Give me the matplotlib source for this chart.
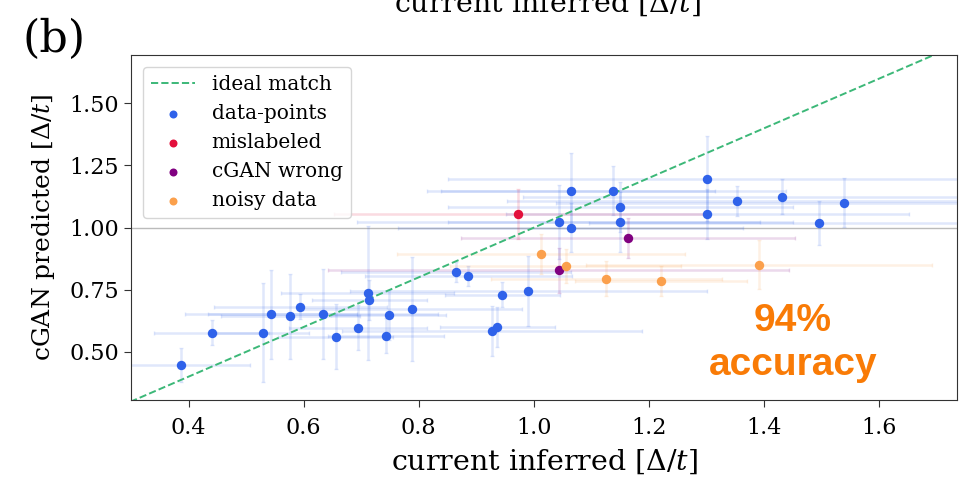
import numpy as np
import matplotlib.pyplot as plt

plt.rcParams['font.family'] = ['DejaVu Serif']
plt.rcParams['mathtext.fontset'] = 'dejavuserif'

# blue points: current inferred, cGAN predicted, x error, y error
data_x = [0.387, 0.440, 0.530, 0.543, 0.577, 0.594, 0.634, 0.656, 0.695, 0.711,
          0.714, 0.743, 0.748, 0.789, 0.864, 0.886, 0.927, 0.936, 0.945, 0.990,
          1.043, 1.064, 1.064, 1.138, 1.150, 1.150, 1.301, 1.301, 1.353, 1.431,
          1.496, 1.539]
data_y = [0.447, 0.577, 0.577, 0.651, 0.643, 0.681, 0.653, 0.561, 0.597, 0.737,
          0.709, 0.565, 0.647, 0.671, 0.820, 0.804, 0.585, 0.601, 0.730, 0.745,
          1.023, 1.149, 1.000, 1.149, 1.083, 1.022, 1.197, 1.054, 1.107, 1.124,
          1.018, 1.101]
data_xerr = [0.12, 0.10, 0.08, 0.15, 0.12, 0.15, 0.20, 0.10, 0.12, 0.15,
             0.10, 0.10, 0.10, 0.19, 0.20, 0.18, 0.26, 0.10, 0.10, 0.31,
             0.35, 0.25, 0.30, 0.30, 0.30, 0.30, 0.45, 0.35, 0.40, 0.45,
             0.40, 0.50]
data_yerr = [0.07, 0.05, 0.20, 0.18, 0.17, 0.05, 0.18, 0.13, 0.09, 0.27,
             0.08, 0.07, 0.10, 0.21, 0.04, 0.04, 0.10, 0.08, 0.05, 0.14,
             0.15, 0.15, 0.10, 0.10, 0.10, 0.12, 0.17, 0.10, 0.06, 0.07,
             0.09, 0.10]

mis_x, mis_y, mis_xerr, mis_yerr = [0.973], [1.055], [0.32], [0.10]

wrong_x = [1.164, 1.043]
wrong_y = [0.959, 0.828]
wrong_xerr = [0.29, 0.40]
wrong_yerr = [0.08, 0.09]

noisy_x = [1.012, 1.055, 1.126, 1.221, 1.391]
noisy_y = [0.894, 0.845, 0.795, 0.784, 0.851]
noisy_xerr = [0.25, 0.20, 0.20, 0.15, 0.30]
noisy_yerr = [0.08, 0.07, 0.07, 0.06, 0.10]

groups = [
    ("data-points", data_x, data_y, data_xerr, data_yerr, "#2f62ea"),
    ("mislabeled", mis_x, mis_y, mis_xerr, mis_yerr, "#e3103c"),
    ("cGAN wrong", wrong_x, wrong_y, wrong_xerr, wrong_yerr, "#800080"),
    ("noisy data", noisy_x, noisy_y, noisy_xerr, noisy_yerr, "#fba04c"),
]

fig = plt.figure(figsize=(9.59, 4.79), dpi=100)
ax = fig.add_axes([131 / 959, 1 - 400 / 479, 826 / 959, 345.3 / 479])

ax.axhline(1.0, color="#bbbbbb", lw=1, zorder=0)
ax.plot([0.2, 1.8], [0.2, 1.8], "--", color="#3cb878", lw=1.4, label="ideal match")

for name, x, y, xe, ye, c in groups:
    ax.errorbar(x, y, xerr=xe, yerr=ye, fmt="none", ecolor=c, alpha=0.15,
                elinewidth=1.8, capsize=1.5, zorder=1)
for name, x, y, xe, ye, c in groups:
    ax.scatter(x, y, s=46, color=c, label=name, zorder=3, linewidths=0)

ax.set_xlim(0.3, 1.735)
ax.set_ylim(0.306, 1.696)
ax.set_xticks([0.4, 0.6, 0.8, 1.0, 1.2, 1.4, 1.6])
ax.set_yticks([0.5, 0.75, 1.0, 1.25, 1.5])
ax.tick_params(labelsize=16, length=5, color="#333333")
ax.tick_params(axis="x", pad=7)
for s in ax.spines.values():
    s.set_color("#333333")
ax.set_xlabel(r"current inferred [$\Delta/t$]", fontsize=20.5, labelpad=6)
ax.set_ylabel(r"cGAN predicted [$\Delta/t$]", fontsize=18, labelpad=9)

leg = ax.legend(loc="upper left", fontsize=14.5, scatterpoints=1, handlelength=2.2,
                borderaxespad=0.6, labelspacing=0.5, markerscale=0.85)

fig.text(793 / 959, 1 - 343 / 479, "94%\naccuracy", ha="center", va="center",
         ma="center", fontsize=28, fontweight="bold", color="#f97b06",
         family="Liberation Sans", linespacing=1.3)
fig.text(54 / 959, 1 - 52 / 479, "(b)", fontsize=32, ha="center", va="baseline")
fig.text(547 / 959, 1 - 12 / 479, r"current inferred [$\Delta/t$]", fontsize=20.5,
         ha="center", va="baseline")

fig.savefig("out.png", dpi=100)
